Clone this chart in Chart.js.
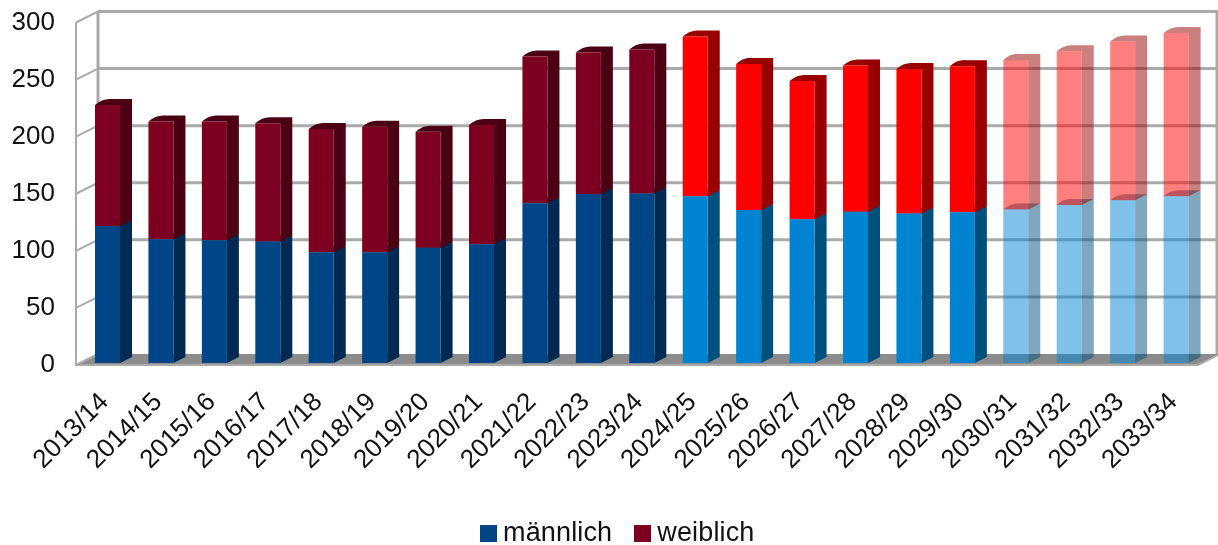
<!DOCTYPE html>
<html>
<head>
<meta charset="utf-8">
<title>Chart</title>
<script src="https://cdn.jsdelivr.net/npm/chart.js@4/dist/chart.umd.min.js"></script>
<style>
html, body { margin: 0; padding: 0; background: #fff; overflow: hidden; }
#wrap { position: relative; width: 1218px; height: 545px; }
#chart { position: absolute; left: 0; top: 0; filter: blur(0.6px); }
#legend { position: absolute; left: 480px; top: 517px; height: 30px; line-height: 30px; white-space: nowrap;
    font: 27px "Liberation Sans", sans-serif; letter-spacing: 0.15px; color: #111; filter: blur(0.4px); }
#legend i { display: inline-block; width: 17px; height: 17px; margin-right: 6px; vertical-align: -1px; }
#legend span { margin-right: 22px; }
</style>
</head>
<body>
<div id="wrap">
    <canvas id="chart" width="1218" height="545"></canvas>
    <div id="legend"></div>
</div>
<script>
const categories = ["2013/14", "2014/15", "2015/16", "2016/17", "2017/18", "2018/19", "2019/20",
    "2020/21", "2021/22", "2022/23", "2023/24", "2024/25", "2025/26", "2026/27", "2027/28",
    "2028/29", "2029/30", "2030/31", "2031/32", "2032/33", "2033/34"];
const maennlich = [120, 108.5, 107.5, 106.5, 97, 97, 101, 104, 140, 148, 148.5, 146,
    134, 126, 132.5, 131, 132, 134.5, 138.5, 142.5, 146];
const weiblich = [106, 103, 104, 103.5, 108, 110, 101.5, 104.5, 128.5, 124, 126, 140,
    128, 121, 128, 126.5, 128, 131, 134.5, 139, 143];
const yTicks = [0, 50, 100, 150, 200, 250, 300];

// colours for: actual years, forecast, faded forecast
const maleFront = ["#004586", "#0084d1", "rgba(0,132,209,0.5)"];
const maleSide = ["#002a52", "#00507d", "rgba(0,80,125,0.5)"];
const femaleFront = ["#7e0021", "#ff0000", "rgba(255,0,0,0.5)"];
const femaleSide = ["#4c0014", "#990000", "rgba(153,0,0,0.5)"];
const eraOf = categories.map((c, i) => i < 11 ? 0 : i < 17 ? 1 : 2);

const depth = { x: 22, y: -11 };     // wall depth
const barShift = { x: 4.8, y: -2 };  // bar front sits a bit behind the front plane
const barDepth = { x: 12, y: -6 };

const walls = {
    id: "walls",
    beforeDatasetsDraw(chart) {
        const { ctx, chartArea: a, scales } = chart;
        const y = scales.y;
        ctx.save();
        // floor
        ctx.fillStyle = "#8c8c8c";
        ctx.beginPath();
        ctx.moveTo(a.left, a.bottom);
        ctx.lineTo(a.right, a.bottom);
        ctx.lineTo(a.right + depth.x, a.bottom + depth.y);
        ctx.lineTo(a.left + depth.x, a.bottom + depth.y);
        ctx.closePath();
        ctx.fill();
        ctx.strokeStyle = "#aaaaaa";
        // grid on the back wall and left wall
        yTicks.forEach(v => {
            const py = y.getPixelForValue(v);
            if (v > 0) {
                ctx.lineWidth = 3;
                ctx.beginPath();
                ctx.moveTo(a.left + depth.x, py + depth.y);
                ctx.lineTo(a.right + depth.x, py + depth.y);
                ctx.stroke();
            }
            ctx.lineWidth = 2;
            ctx.beginPath();
            ctx.moveTo(a.left, py);
            ctx.lineTo(a.left + depth.x, py + depth.y);
            ctx.stroke();
        });
        ctx.lineWidth = 2;
        ctx.beginPath();
        ctx.moveTo(a.left, a.top);
        ctx.lineTo(a.left, a.bottom);
        ctx.lineTo(a.right, a.bottom);
        ctx.lineTo(a.right + depth.x, a.bottom + depth.y);
        ctx.stroke();
        ctx.lineWidth = 3;
        ctx.beginPath();
        ctx.moveTo(a.left + depth.x, a.top + depth.y);
        ctx.lineTo(a.left + depth.x, a.bottom + depth.y);
        ctx.moveTo(a.right + depth.x - 3, a.top + depth.y);
        ctx.lineTo(a.right + depth.x - 3, a.bottom + depth.y);
        ctx.stroke();
        ctx.restore();

        // sides and tops of the bars, the library then paints the fronts on top
        ctx.save();
        ctx.translate(barShift.x, barShift.y);
        [0, 1].forEach(d => {
            const sides = d === 0 ? maleSide : femaleSide;
            chart.getDatasetMeta(d).data.forEach((el, i) => {
                const l = el.x - el.width / 2, r = el.x + el.width / 2;
                ctx.fillStyle = sides[eraOf[i]];
                ctx.beginPath();
                ctx.moveTo(l, el.y);
                ctx.quadraticCurveTo(l + barDepth.x * 0.6, el.y + barDepth.y * 1.1, l + barDepth.x + 4, el.y + barDepth.y);
                ctx.lineTo(r + barDepth.x, el.y + barDepth.y);
                ctx.lineTo(r + barDepth.x, el.base + barDepth.y);
                ctx.lineTo(r, el.base);
                ctx.lineTo(r, el.y);
                ctx.closePath();
                ctx.fill();
            });
        });
        // translate stays on for the fronts, restored in afterDatasetsDraw
    },
    afterDatasetsDraw(chart) {
        chart.ctx.restore();
    }
};

const chart = new Chart(document.getElementById("chart"), {
    type: "bar",
    data: {
        labels: categories,
        datasets: [{
            label: "männlich",
            data: maennlich,
            backgroundColor: eraOf.map(e => maleFront[e]),
            clip: false,
        }, {
            label: "weiblich",
            data: weiblich,
            backgroundColor: eraOf.map(e => femaleFront[e]),
            clip: false,
        }],
    },
    options: {
        responsive: false,
        animation: false,
        devicePixelRatio: 1,
        barPercentage: 0.468,
        categoryPercentage: 1,
        layout: { padding: { top: 22.5, right: 20, left: 0, bottom: 0 } },
        plugins: {
            legend: { display: false },
            tooltip: { enabled: false },
        },
        scales: {
            x: {
                stacked: true,
                grid: { display: false },
                border: { display: false },
                ticks: {
                    color: "#111",
                    font: { family: "Liberation Sans", size: 26 },
                    minRotation: 45,
                    maxRotation: 45,
                    padding: 14,
                    labelOffset: 2,
                    autoSkip: false,
                },
                afterFit(scale) {
                    scale.height = 180;
                    scale.paddingLeft = 0;
                    scale.paddingRight = 0;
                },
            },
            y: {
                stacked: true,
                min: 0,
                max: 300,
                afterBuildTicks(scale) {
                    scale.ticks = yTicks.map(v => ({ value: v }));
                },
                grid: { display: false },
                border: { display: false },
                ticks: {
                    color: "#111",
                    font: { family: "Liberation Sans", size: 26 },
                    padding: 13,
                },
                afterFit(scale) {
                    scale.width = 76;
                    scale.paddingTop = 0;
                    scale.paddingBottom = 0;
                },
            },
        },
    },
    plugins: [walls],
});

// legend with the first colour of each series
const legend = document.getElementById("legend");
chart.data.datasets.forEach((ds, i) => {
    const swatch = document.createElement("i");
    swatch.style.background = ds.backgroundColor[0];
    const text = document.createElement("span");
    text.textContent = ds.label;
    legend.append(swatch, text);
});
</script>
</body>
</html>
